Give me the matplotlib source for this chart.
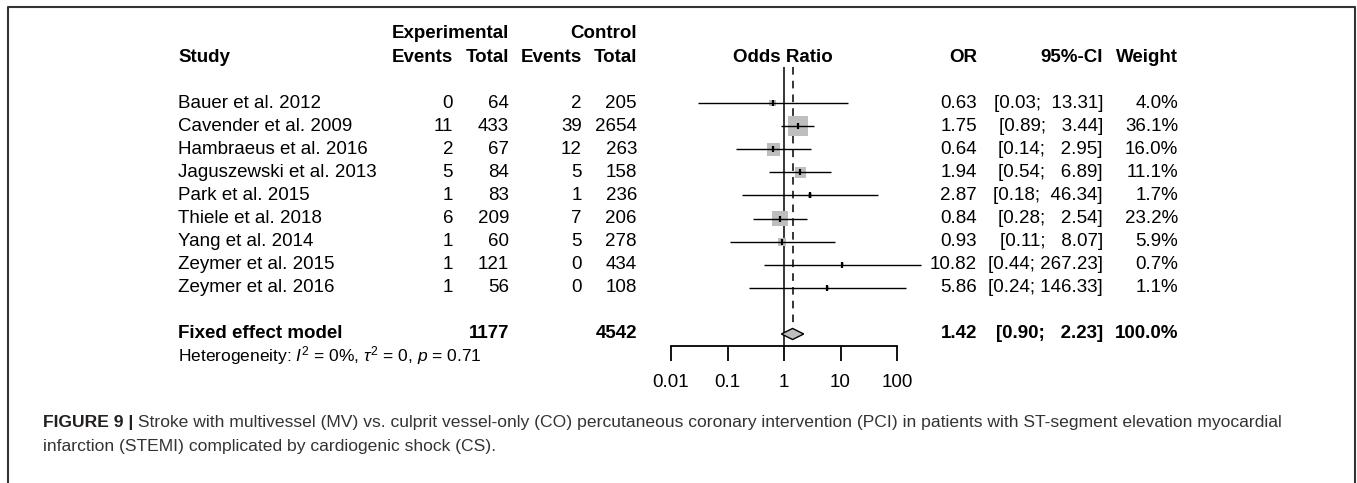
import matplotlib.pyplot as plt
import matplotlib.transforms as mtransforms
from matplotlib.patches import Polygon
import numpy as np

plt.rcParams['font.family'] = ['Liberation Sans', 'DejaVu Sans']
plt.rcParams['mathtext.fontset'] = 'custom'
plt.rcParams['mathtext.rm'] = 'Liberation Sans'
plt.rcParams['mathtext.it'] = 'Liberation Sans:italic'

# study level data
studies = ["Bauer et al. 2012", "Cavender et al. 2009", "Hambraeus et al. 2016",
           "Jaguszewski et al. 2013", "Park et al. 2015", "Thiele et al. 2018",
           "Yang et al. 2014", "Zeymer et al. 2015", "Zeymer et al. 2016"]
exp_events = [0, 11, 2, 5, 1, 6, 1, 1, 1]
exp_total = [64, 433, 67, 84, 83, 209, 60, 121, 56]
ctrl_events = [2, 39, 12, 5, 1, 7, 5, 0, 0]
ctrl_total = [205, 2654, 263, 158, 236, 206, 278, 434, 108]
odds = [0.63, 1.75, 0.64, 1.94, 2.87, 0.84, 0.93, 10.82, 5.86]
ci_low = [0.03, 0.89, 0.14, 0.54, 0.18, 0.28, 0.11, 0.44, 0.24]
ci_high = [13.31, 3.44, 2.95, 6.89, 46.34, 2.54, 8.07, 267.23, 146.33]
weights = [4.0, 36.1, 16.0, 11.1, 1.7, 23.2, 5.9, 0.7, 1.1]

# pooled (fixed effect) result
pooled_label = "Fixed effect model"
pooled_exp_total = 1177
pooled_ctrl_total = 4542
pooled_or = 1.42
pooled_low = 0.90
pooled_high = 2.23
pooled_weight = 100.0
heterogeneity = r"Heterogeneity: $I^2$ = 0%, $\tau^2$ = 0, $p$ = 0.71"

xticks = [0.01, 0.1, 1, 10, 100]
xtick_labels = ["0.01", "0.1", "1", "10", "100"]

caption_bold = "FIGURE 9 |"
caption_1 = (" Stroke with multivessel (MV) vs. culprit vessel-only (CO) percutaneous "
             "coronary intervention (PCI) in patients with ST-segment elevation myocardial")
caption_2 = "infarction (STEMI) complicated by cardiogenic shock (CS)."

W, H = 1357, 483
fig = plt.figure(figsize=(W / 100, H / 100), dpi=100)

# background axes in pixel units, used for layout of text
bg = fig.add_axes([0, 0, 1, 1])
bg.set_xlim(0, W)
bg.set_ylim(H, 0)
bg.axis('off')

# forest plot axes
fa = fig.add_axes([671 / W, 1 - 346 / H, 226 / W, (346 - 67) / H])
fa.patch.set_alpha(0)
fa.set_xscale('log')
fa.set_xlim(0.01, 100)
n = len(studies)
rows = np.arange(n)
pooled_row = n + 1
fa.set_ylim(pooled_row + 0.52, -1.56)
for s in ['top', 'right', 'left']:
    fa.spines[s].set_visible(False)
fa.spines['bottom'].set_linewidth(1.3)
fa.set_yticks([])
fa.set_xticks(xticks)
fa.set_xticklabels(xtick_labels)
fa.minorticks_off()
fa.tick_params(axis='x', direction='out', length=11, width=1.3, pad=9,
               labelsize=13.5, colors='black')

# reference line and pooled estimate line
fa.axvline(1, color='black', lw=1.1, zorder=1)
dh = 0.24
fa.plot([pooled_or, pooled_or], [-1.56, pooled_row - dh], color='black',
        lw=1.1, dashes=(5, 4), zorder=1)

# squares, CI lines, point markers
sizes = [(2.35 * np.sqrt(w)) ** 2 for w in weights]
fa.scatter(odds, rows, s=sizes, marker='s', color='#bebebe', zorder=2, linewidths=0)
for i in range(n):
    fa.plot([ci_low[i], ci_high[i]], [i, i], color='black', lw=1.0, zorder=3,
            clip_on=False, solid_capstyle='butt')
fa.scatter(odds, rows, s=22, marker='|', color='black', linewidths=1.6, zorder=4)

diamond = Polygon([(pooled_low, pooled_row), (pooled_or, pooled_row - dh),
                   (pooled_high, pooled_row), (pooled_or, pooled_row + dh)],
                  closed=True, facecolor='#bebebe', edgecolor='black', lw=1.0, zorder=3)
fa.add_patch(diamond)

# table text
tr = mtransforms.blended_transform_factory(bg.transData, fa.transData)
fs = 13.5
for i in range(n):
    kw = dict(transform=tr, fontsize=fs, va='center')
    bg.text(178, i, studies[i], ha='left', **kw)
    bg.text(453, i, str(exp_events[i]), ha='right', **kw)
    bg.text(509, i, str(exp_total[i]), ha='right', **kw)
    bg.text(582, i, str(ctrl_events[i]), ha='right', **kw)
    bg.text(637, i, str(ctrl_total[i]), ha='right', **kw)
    bg.text(977, i, f"{odds[i]:.2f}", ha='right', **kw)
    bg.text(1103, i, f"[{ci_low[i]:.2f}; {ci_high[i]:6.2f}]", ha='right', **kw)
    bg.text(1178, i, f"{weights[i]:.1f}%", ha='right', **kw)

kw = dict(transform=tr, fontsize=fs, va='center', weight='bold')
bg.text(178, pooled_row, pooled_label, ha='left', **kw)
bg.text(509, pooled_row, str(pooled_exp_total), ha='right', **kw)
bg.text(637, pooled_row, str(pooled_ctrl_total), ha='right', **kw)
bg.text(977, pooled_row, f"{pooled_or:.2f}", ha='right', **kw)
bg.text(1103, pooled_row, f"[{pooled_low:.2f}; {pooled_high:6.2f}]", ha='right', **kw)
bg.text(1178, pooled_row, f"{pooled_weight:.1f}%", ha='right', **kw)
bg.text(178, 356, heterogeneity, ha='left', va='center', fontsize=12.5)

# headers
hk = dict(fontsize=fs, va='center', weight='bold')
bg.text(509, 33, "Experimental", ha='right', **hk)
bg.text(637, 33, "Control", ha='right', **hk)
bg.text(178, 57, "Study", ha='left', **hk)
bg.text(453, 57, "Events", ha='right', **hk)
bg.text(509, 57, "Total", ha='right', **hk)
bg.text(582, 57, "Events", ha='right', **hk)
bg.text(637, 57, "Total", ha='right', **hk)
bg.text(783, 57, "Odds Ratio", ha='center', **hk)
bg.text(977, 57, "OR", ha='right', **hk)
bg.text(1103, 57, "95%-CI", ha='right', **hk)
bg.text(1178, 57, "Weight", ha='right', **hk)

# frame around the figure panel
bg.plot([8, 8, 1355, 1355], [H, 7, 7, H], color='#333333', lw=1.5, clip_on=False)

# caption
t1 = bg.text(43, 423, caption_bold, ha='left', va='center', fontsize=12.6,
             weight='bold', color='#231f20')
bg.annotate(caption_1, xy=(1, 0.5), xycoords=t1, ha='left', va='center',
            fontsize=12.6, color='#333333')
bg.text(43, 446, caption_2, ha='left', va='center', fontsize=12.6, color='#333333')

fig.savefig('out.png', dpi=100)
